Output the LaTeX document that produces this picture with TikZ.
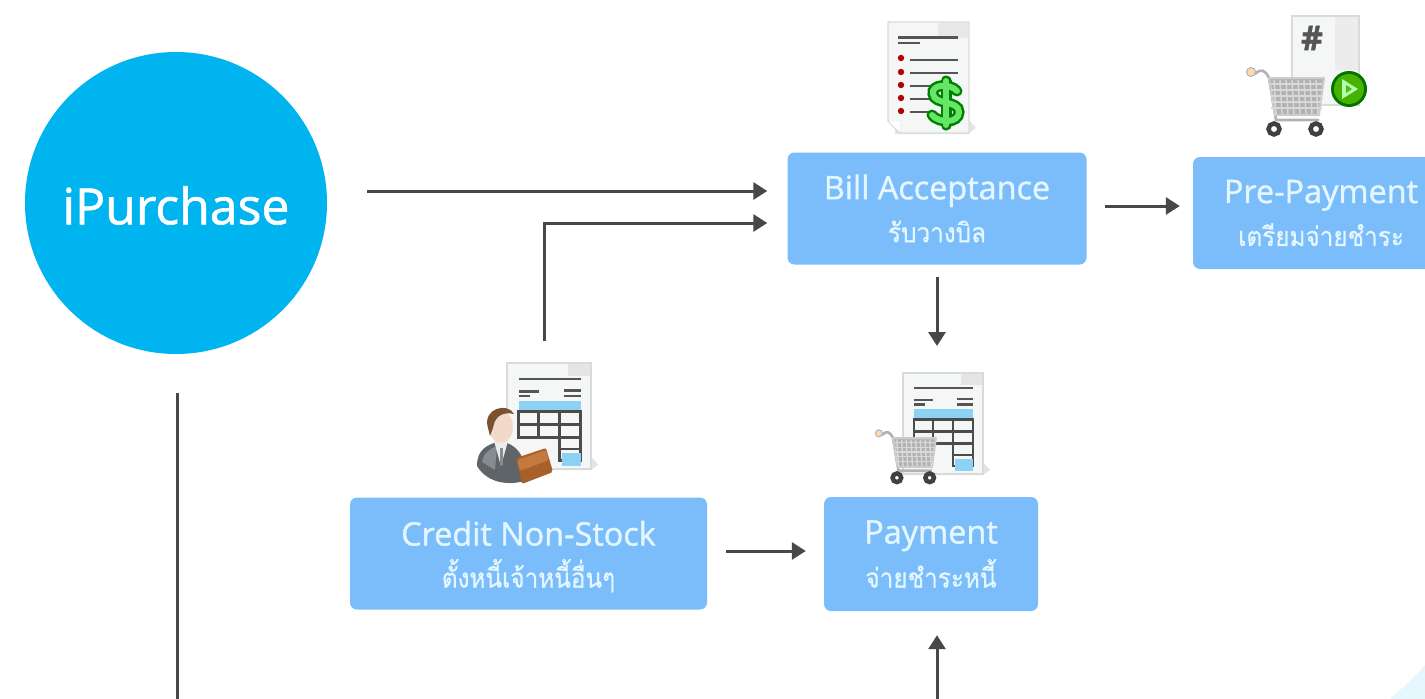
\documentclass[tikz,border=0pt]{standalone}
\usepackage{fontspec}
\setmainfont{Open Sans}[FakeBold=1.2]
\newfontfamily\thaifont[Script=Thai,FakeStretch=0.9,FakeBold=0.6]{Loma}
\usetikzlibrary{arrows.meta,shapes.geometric,calc}
\definecolor{boxblue}{HTML}{7BBDFB}
\definecolor{circblue}{HTML}{00B4F0}
\definecolor{boxtext}{HTML}{E4F6FF}
\definecolor{arrowgrey}{HTML}{484848}
\definecolor{pagegrey}{HTML}{F5F6F6}
\definecolor{pageedge}{HTML}{D8DBDC}
\definecolor{inkgrey}{HTML}{555555}
\definecolor{rowblue}{HTML}{8CD2F5}
\definecolor{suit}{HTML}{5E6468}
\definecolor{suitlight}{HTML}{868C90}
\definecolor{skin}{HTML}{F2D9C8}
\definecolor{hair}{HTML}{7A5232}
\definecolor{leather}{HTML}{A8602B}
\definecolor{leatherlight}{HTML}{C47A3E}
\newcommand{\thailine}[1]{{\thaifont\fontsize{27}{34}\selectfont #1}}
\tikzset{
  flowbox/.style={fill=boxblue,rounded corners=7pt,inner sep=0pt,align=center,text=boxtext,font=\fontsize{32.4}{40}\selectfont},
  flowarrow/.style={draw=arrowgrey,line width=3pt,-{Triangle[length=14pt,width=17pt]}},
  flowline/.style={draw=arrowgrey,line width=3pt},
  doc/.style={fill=pagegrey,draw=pageedge,line width=1.2pt},
  ink/.style={draw=inkgrey,line width=2.4pt},
  pics/cart/.style={code={
    \draw[line width=2.6pt,draw=gray!60] (-14,-4) .. controls (-8,-10) and (-4,-8) .. (0,0) -- (7,42) -- (50,42);
    \fill[fill=orange!30,draw=gray!60,line width=1pt] (-18,-6) circle (4.5);
    \fill[fill=gray!60,draw=gray!40,line width=2pt] (0,0) -- (55,0) -- (50,37) -- (6,37) -- cycle;
    \foreach \i in {5,11,...,47}{\draw[white!70!gray,line width=1.4pt] (\i,2) -- ({\i+2},36);}
    \foreach \j in {6,12,...,31}{\draw[white!70!gray,line width=1.4pt] (2,\j) -- (53,\j);}
    \draw[fill=white,draw=black!75,line width=4.5pt] (5,51) circle (5.5) (47,51) circle (5.5);
  }},
  pics/form/.style={code={
    \fill[gray!22] (6,8) -- (87,96) -- (80,101) -- (6,101) -- cycle;
    \fill[doc] (0,0) rectangle (80,100);
    \fill[gray!20] (58,1) rectangle (79,12);
    \draw[ink] (11,15) -- (70,15) (11,27) -- (30,27) (54,26) -- (70,26) (11,31) -- (22,31) (54,31) -- (70,31);
    \fill[rowblue] (11,36) rectangle (70,46);
    \draw[black!70,line width=2.6pt] (11,46) rectangle (70,70) (11,58) -- (70,58) (30,46) -- (30,70) (50,46) -- (50,92) -- (70,92) -- (70,70) (50,81) -- (70,81);
    \fill[rowblue] (52,85) rectangle (70,97);
  }}
}
\begin{document}
\begin{tikzpicture}[x=1pt,y=-1pt]
\useasboundingbox (0,0) rectangle (1425,699);
\clip (0,0) rectangle (1425,699);
\fill[white] (0,0) rectangle (1425,699);
% faint corner
\fill[circblue!10] (1425,665) .. controls (1412,680) and (1400,690) .. (1390,699) -- (1425,699) -- cycle;

% main nodes
\node[circle,fill=circblue,minimum size=302pt,inner sep=0pt,text=white,font=\fontsize{50}{60}\selectfont] (ipurchase) at (176,203) {\rule{0pt}{43pt}iPurchase};
\node[flowbox,minimum width=299pt,minimum height=112pt] (bill) at (937,208.5) {Bill Acceptance\\[3pt]\thailine{รับวางบิล}};
\node[flowbox,minimum width=256pt,minimum height=112pt] (pre) at (1321,213) {Pre-Payment\\[3pt]\thailine{เตรียมจ่ายชำระ}};
\node[flowbox,minimum width=357pt,minimum height=112pt] (credit) at (528.5,553.5) {\rule{0pt}{31pt}Credit Non-Stock\\[2pt]\thailine{ตั้งหนี้เจ้าหนี้อื่นๆ}};
\node[flowbox,minimum width=214pt,minimum height=114pt] (pay) at (931,554) {Payment\\[4pt]\thailine{จ่ายชำระหนี้}};

% free ends
\coordinate (creditstart) at (544,341);
\coordinate (billdown) at (937,277);
\coordinate (payin) at (937,346);
\coordinate (leftend) at (177,705);
\coordinate (bottomend) at (937,705);

% connectors
\draw[flowarrow,shorten <=40pt,shorten >=20pt] (ipurchase.east |- 0,191) -- (bill.west |- 0,191);
\draw[flowarrow,shorten >=20pt] (creditstart) |- (bill.west |- 0,223);
\draw[flowarrow,shorten <=18pt,shorten >=13pt] (bill.east |- 0,206) -- (pre.west |- 0,206);
\draw[flowarrow] (billdown) -- (payin);
\draw[flowarrow,shorten <=19pt,shorten >=18pt] (credit.east |- 0,551) -- (pay.west |- 0,551);
\draw[flowarrow,shorten >=24pt] (bottomend) -- (bottomend |- pay.south);
\draw[flowline,shorten <=39pt] (ipurchase.south -| leftend) -- (leftend);

% Bill Acceptance icon
\fill[gray!22] (893,30) -- (976,128) -- (968,134) -- (895,134) -- cycle;
\fill[doc] (888,22) -- (969,22) -- (969,133) -- (900,133) -- (888,121) -- cycle;
\fill[gray!18] (938,23) rectangle (968,38);
\fill[white,draw=pageedge] (888,121) -- (900,121) -- (900,133) -- cycle;
\draw[ink] (898,37.5) -- (958,37.5) (898,43) -- (920,43);
\draw[ink] (910,60) -- (958,60) (910,73) -- (958,73) (910,86) -- (932,86) (910,99) -- (932,99) (910,112) -- (932,112);
\foreach \yy in {58,72,85,98,111}{\fill[red!70!black] (901,\yy) circle (3.2);}
\foreach \ww/\cc in {11pt/green!50!black,6pt/green!55!white!90!black}{
  \draw[draw=\cc,line width=\ww,line cap=round] (957,91) .. controls (950,83) and (931,84) .. (933,94) .. controls (934,105) and (959,100) .. (959,112) .. controls (959,124) and (938,123) .. (932,115);
  \draw[draw=\cc,line width=\ww,line cap=round] (946,81) -- (946,125);
}

% Pre-Payment icon
\fill[doc] (1292,16) rectangle (1359,105);
\fill[gray!15] (1335,17) rectangle (1358,70);
\node[font=\fontsize{34}{34}\selectfont\bfseries,text=inkgrey,inner sep=0pt] (hash) at (1312,38) {\#};
\pic at (1269,78) {cart};
\fill[green!45!black] (1349,89) circle (18);
\fill[green!60!yellow!70!black] (1349,89) circle (15);
\fill[white!70!green] (1342,79) -- (1358,89) -- (1342,99) -- cycle;
\fill[green!60!yellow!75!black] (1346,85) -- (1352,89) -- (1346,93) -- cycle;

% Credit icon
\pic[xscale=1.05,yscale=1.06] at (507,363) {form};
\fill[suit] (477,466) .. controls (477,450) and (486,445) .. (500,441) .. controls (514,444) and (524,450) .. (528,480) .. controls (510,486) and (488,484) .. (477,466) -- cycle;
\fill[suitlight] (482,462) .. controls (484,452) and (490,449) .. (497,446) -- (495,470) -- cycle;
\fill[gray!15] (494,441) -- (508,441) -- (501,466) -- cycle;
\fill[suitlight] (500,448) -- (503,448) -- (503,465) -- (500,465) -- cycle;
\fill[skin] (501,427) ellipse (12 and 16);
\fill[hair] (488,428) .. controls (482,408) and (508,402) .. (514,414) .. controls (505,412) and (495,414) .. (493,428) -- (490,436) -- cycle;
\fill[leather,rounded corners=2pt] (516,458) -- (546,448) -- (553,472) -- (522,484) -- cycle;
\fill[leatherlight,rounded corners=2pt] (517,460) -- (546,450) -- (549,460) -- (520,471) -- cycle;

% Payment icon
\pic[xscale=1.0,yscale=1.01] at (903,373) {form};
\pic[scale=0.78] at (893,438) {cart};
\end{tikzpicture}
\end{document}
